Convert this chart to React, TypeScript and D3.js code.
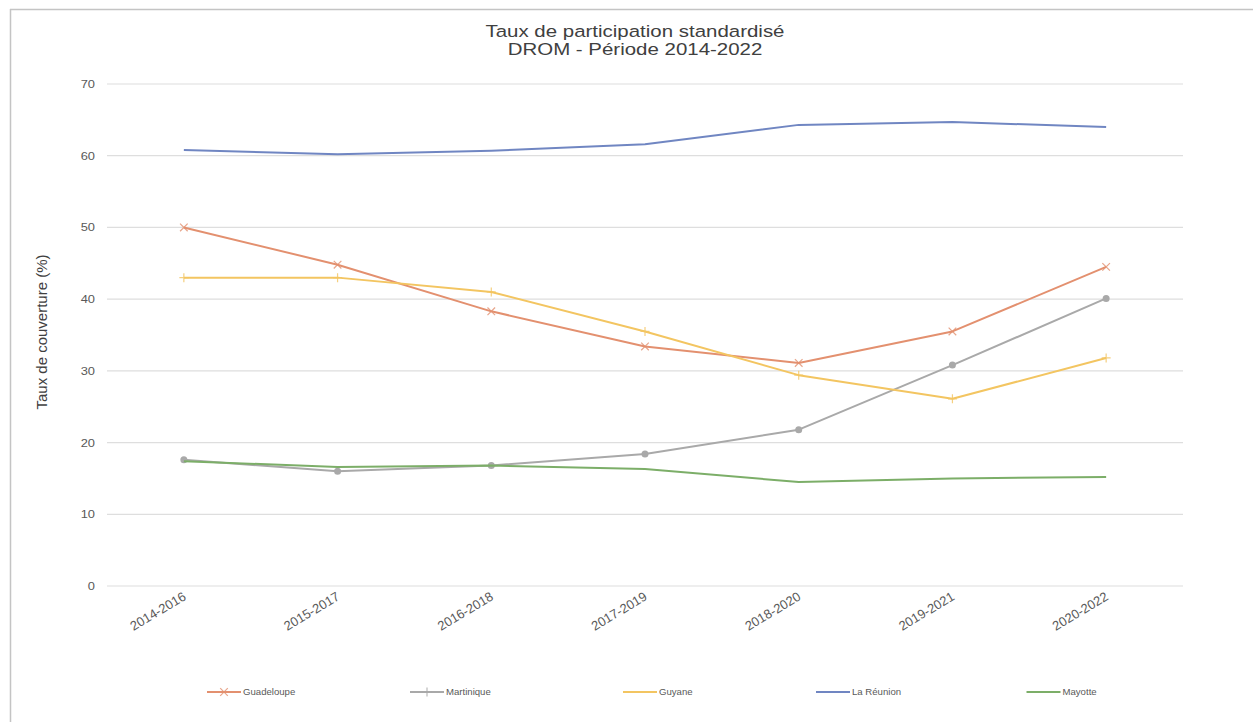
import React from "react";
import * as d3 from "d3";

// Rolling three-year periods
const periods = [
  "2014-2016",
  "2015-2017",
  "2016-2018",
  "2017-2019",
  "2018-2020",
  "2019-2021",
  "2020-2022",
];

// Standardised participation rate (%) per territory
const guadeloupe = [50.0, 44.8, 38.3, 33.4, 31.1, 35.5, 44.5];
const martinique = [17.6, 16.0, 16.8, 18.4, 21.8, 30.8, 40.1];
const guyane = [43.0, 43.0, 41.0, 35.5, 29.4, 26.1, 31.8];
const reunion = [60.8, 60.2, 60.7, 61.6, 64.3, 64.7, 64.0];
const mayotte = [17.4, 16.6, 16.8, 16.3, 14.5, 15.0, 15.2];

const yTicks = [0, 10, 20, 30, 40, 50, 60, 70];

type Marker = "x" | "circle" | "plus" | "none";

const series: { name: string; values: number[]; color: string; marker: Marker }[] = [
  { name: "Guadeloupe", values: guadeloupe, color: "#e3906f", marker: "x" },
  { name: "Martinique", values: martinique, color: "#a9a9a9", marker: "circle" },
  { name: "Guyane", values: guyane, color: "#f3c561", marker: "plus" },
  { name: "La Réunion", values: reunion, color: "#7086c2", marker: "none" },
  { name: "Mayotte", values: mayotte, color: "#7cae68", marker: "none" },
];

const W = 1253;
const H = 722;
const FONT = "Arial, 'Liberation Sans', Helvetica, sans-serif";

function MarkerGlyph({ type, x, y, color }: { type: Marker; x: number; y: number; color: string }) {
  if (type === "x") {
    const s = 3.8;
    return (
      <path
        d={`M${x - s},${y - s}L${x + s},${y + s}M${x - s},${y + s}L${x + s},${y - s}`}
        stroke={color}
        strokeWidth={1.2}
        opacity={0.8}
      />
    );
  }
  if (type === "plus") {
    const s = 4.5;
    return (
      <path
        d={`M${x - s},${y}L${x + s},${y}M${x},${y - s}L${x},${y + s}`}
        stroke={color}
        strokeWidth={1.2}
        opacity={0.8}
      />
    );
  }
  if (type === "circle") {
    return <circle cx={x} cy={y} r={3.5} fill={color} />;
  }
  return null;
}

export default function App() {
  const x = d3.scalePoint<string>().domain(periods).range([107, 1183]).padding(0.5);
  const y = d3.scaleLinear().domain([0, 70]).range([586, 84]);

  const line = d3
    .line<number>()
    .x((_, i) => x(periods[i]) as number)
    .y((d) => y(d));

  const legendCenter = 656;
  const legendStep = 203;
  const legendY = 692;

  return (
    <svg
      width={W}
      height={H}
      style={{ position: "absolute", left: 0, top: 0, background: "#fff" }}
      fontFamily={FONT}
    >
      <rect x={0} y={0} width={W} height={H} fill="#fff" />
      {/* outer frame */}
      <line x1={10} y1={9.5} x2={W} y2={9.5} stroke="#c4c4c4" strokeWidth={1.5} />
      <line x1={10.5} y1={9} x2={10.5} y2={H} stroke="#c4c4c4" strokeWidth={1.5} />

      {/* title, slightly widened */}
      <g transform="translate(635,0) scale(1.24,1)">
        <text x={0} y={37} textAnchor="middle" fontSize={16.5} fill="#404040">
          Taux de participation standardisé
        </text>
        <text x={0} y={55.5} textAnchor="middle" fontSize={16.5} fill="#404040">
          DROM - Période 2014-2022
        </text>
      </g>

      {/* grid + y ticks */}
      {yTicks.map((t) => (
        <g key={t}>
          <line x1={107} x2={1183} y1={y(t)} y2={y(t)} stroke="#dedede" strokeWidth={1.2} />
          <text
            transform={`translate(95,${y(t)}) scale(1.12,1)`}
            dy="0.35em"
            textAnchor="end"
            fontSize={11.5}
            fill="#595959"
          >
            {t}
          </text>
        </g>
      ))}

      {/* y title */}
      <text
        transform={`translate(47,332) rotate(-90)`}
        textAnchor="middle"
        fontSize={15}
        fill="#404040"
      >
        Taux de couverture (%)
      </text>

      {/* x tick labels */}
      {periods.map((p) => (
        <text
          key={p}
          transform={`translate(${(x(p) as number) + 3},${599}) rotate(-31)`}
          textAnchor="end"
          fontSize={13}
          fill="#595959"
        >
          {p}
        </text>
      ))}

      {/* series */}
      {series.map((s) => (
        <g key={s.name}>
          <path
            d={line(s.values) || ""}
            fill="none"
            stroke={s.color}
            strokeWidth={2}
            strokeLinejoin="round"
          />
          {s.values.map((v, i) => (
            <MarkerGlyph key={i} type={s.marker} x={x(periods[i]) as number} y={y(v)} color={s.color} />
          ))}
        </g>
      ))}

      {/* legend */}
      {series.map((s, i) => {
        const cx = legendCenter + (i - 2) * legendStep;
        const textW = s.name.length * 5.0;
        const total = 34 + 2 + textW;
        const x0 = cx - total / 2;
        return (
          <g key={s.name}>
            <line x1={x0} x2={x0 + 34} y1={legendY} y2={legendY} stroke={s.color} strokeWidth={2} />
            {s.marker === "x" || s.marker === "circle" ? (
              <MarkerGlyph type={s.marker === "x" ? "x" : "plus"} x={x0 + 17} y={legendY} color={s.color} />
            ) : null}
            <text x={x0 + 36} y={legendY} dy="0.35em" fontSize={9.6} fill="#595959">
              {s.name}
            </text>
          </g>
        );
      })}
    </svg>
  );
}
